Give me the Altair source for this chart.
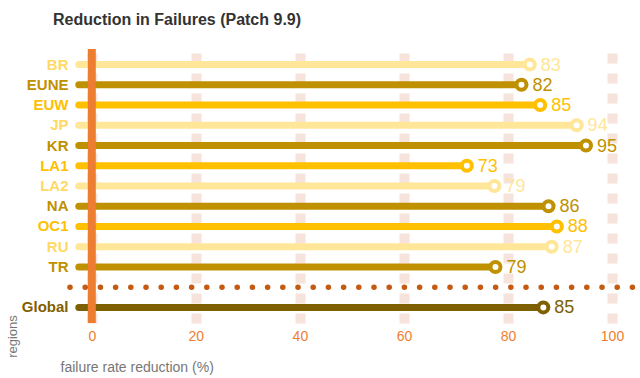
import altair as alt
import pandas as pd

regions = ["BR", "EUNE", "EUW", "JP", "KR", "LA1", "LA2", "NA", "OC1", "RU", "TR", "Global"]
values = [84.2, 82.6, 86.2, 93.2, 95.0, 72.1, 77.4, 87.8, 89.4, 88.4, 77.6, 86.8]
labels = ["83", "82", "85", "94", "95", "73", "79", "86", "88", "87", "79", "85"]
colors = ["#ffe699", "#bf9000", "#ffc000", "#ffe699", "#bf9000", "#ffc000",
          "#ffe699", "#bf9000", "#ffc000", "#ffe699", "#bf9000", "#7f6000"]
label_colors = ["#ffd966", "#bf9000", "#ffc000", "#ffd966", "#bf9000", "#ffc000",
                "#ffd966", "#bf9000", "#ffc000", "#ffd966", "#bf9000", "#7f6000"]
SEP = "sep"
y_order = regions[:-1] + [SEP] + regions[-1:]
x_ticks = [0, 20, 40, 60, 80, 100]
bar_start = -2.5
sep_span = [-4.2, 112]

FONT = "Liberation Sans Narrow, Liberation Sans, Arial, sans-serif"

df = pd.DataFrame({"region": regions, "value": values, "label": labels,
                   "start": [bar_start] * len(regions)})

label_color_expr = " : ".join(
    f"datum.value == '{r}' ? '{c}'" for r, c in zip(regions, label_colors)) + " : '#333'"

color_scale = alt.Scale(domain=regions, range=colors)
text_color_scale = alt.Scale(domain=regions, range=label_colors)
x_scale = alt.Scale(domain=[-4, 105], nice=False, zero=False)
y_scale = alt.Scale(domain=y_order, paddingInner=0, paddingOuter=0.27)

x_axis = alt.Axis(values=x_ticks, domain=False, ticks=False, grid=True,
                  gridColor="#f6e4dc", gridWidth=10, gridDash=[10, 10],
                  labelColor="#ed7d31", labelFontSize=14, labelFont=FONT, labelPadding=6,
                  title="failure rate reduction (%)", titleColor="#777777", titleFont=FONT,
                  titleFontSize=14, titleFontWeight="normal", titleAnchor="start",
                  titleAlign="left", titleX=-11, titleY=48, titleBaseline="alphabetic")
y_axis = alt.Axis(domain=False, ticks=False, grid=False, labelPadding=3,
                  labelFont=FONT, labelFontSize=15, labelFontWeight="bold",
                  labelColor=alt.ExprRef(label_color_expr),
                  labelExpr=f"datum.value == '{SEP}' ? '' : datum.value",
                  title="regions", titleColor="#777777", titleFont=FONT, titleFontSize=13,
                  titleFontWeight="normal", titleAngle=-90, titleX=-55, titleY=287,
                  titleAlign="center", titleBaseline="alphabetic")

base = alt.Chart(df)

bars = base.mark_rule(strokeWidth=7, strokeCap="round").encode(
    x=alt.X("start:Q", scale=x_scale, axis=x_axis),
    x2="value:Q",
    y=alt.Y("region:N", scale=y_scale, sort=y_order, axis=y_axis),
    color=alt.Color("region:N", scale=color_scale, legend=None),
)

zero = alt.Chart(pd.DataFrame({"z": [0]})).mark_rule(
    strokeWidth=8, color="#ed7d31").encode(x=alt.X("z:Q", scale=x_scale))

sep_df = pd.DataFrame({"y": [SEP], "x1": [sep_span[0]], "x2": [sep_span[1]]})
sep = alt.Chart(sep_df).mark_rule(
    strokeWidth=5.5, strokeDash=[0.1, 15.1], strokeCap="round", color="#c55a11", clip=False
).encode(x=alt.X("x1:Q", scale=x_scale), x2="x2:Q",
         y=alt.Y("y:N", scale=y_scale, sort=y_order))

dots = base.mark_point(shape="circle", filled=True, fill="white", size=100,
                       strokeWidth=4, opacity=1).encode(
    x=alt.X("value:Q", scale=x_scale),
    y=alt.Y("region:N", scale=y_scale, sort=y_order),
    stroke=alt.Color("region:N", scale=color_scale, legend=None),
)

texts = base.mark_text(align="left", baseline="middle", dx=11, dy=1,
                       fontSize=18, font=FONT).encode(
    x=alt.X("value:Q", scale=x_scale),
    y=alt.Y("region:N", scale=y_scale, sort=y_order),
    text="label:N",
    color=alt.Color("region:N", scale=text_color_scale, legend=None),
)

chart = alt.layer(bars, zero, sep, dots, texts).properties(
    width=567, height=274,
    title=alt.TitleParams("Reduction in Failures (Patch 9.9)", anchor="start", frame="group",
                          dx=-18, offset=4, font=FONT, fontSize=16, fontWeight="bold",
                          color="#333333", baseline="alphabetic"),
    autosize=alt.AutoSizeParams(type="none"),
    padding={"left": 71, "top": 49, "right": 2, "bottom": 55},
    background="white",
).configure_view(strokeWidth=0, stroke="transparent")

chart.save("out.html", embed_options={"renderer": "svg", "actions": False})
